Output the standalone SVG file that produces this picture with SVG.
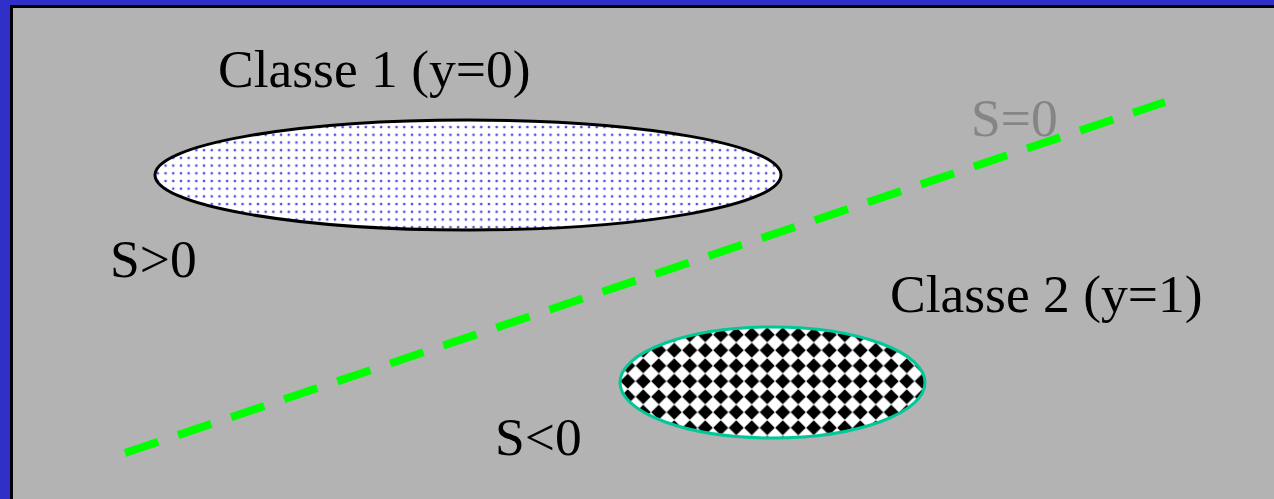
<svg xmlns="http://www.w3.org/2000/svg" width="1274" height="499" viewBox="0 0 1274 499">
<style>
.lbl{font-family:"Liberation Serif","Times New Roman",serif;font-size:53.5px;fill:#000}
.gray{fill:#858585}
</style>
<defs>
<pattern id="dots" x="0" y="0" width="7.7" height="7.7" patternUnits="userSpaceOnUse">
<rect width="7.7" height="7.7" fill="#fff"/>
<circle cx="3.85" cy="3.85" r="1.5" fill="#9898f0"/>
<circle cx="3.85" cy="3.85" r="0.95" fill="#3434e0"/>
</pattern>
<pattern id="diam" x="620" y="327" width="15.5" height="15.5" patternUnits="userSpaceOnUse">
<rect width="15.5" height="15.5" fill="#fff"/>
<polygon points="7.75,0.2 15.3,7.75 7.75,15.3 0.2,7.75" fill="#000"/>
</pattern>
</defs>
<g id="frame">
<rect x="0" y="0" width="1274" height="499" fill="#3030c8"/>
<rect x="10" y="5" width="1264" height="494" fill="#000"/>
<rect x="13" y="8" width="1261" height="491" fill="#b3b3b3"/>
</g>
<g id="connectors">
<line x1="125" y1="453" x2="1165" y2="102" stroke="#00ff00" stroke-width="8" stroke-dasharray="35 21" stroke-linecap="butt"/>
</g>
<g id="class1">
<ellipse cx="468" cy="175" rx="313" ry="55" fill="url(#dots)" stroke="#000" stroke-width="3"/>
<text class="lbl" x="218" y="87">Classe 1 (y=0)</text>
</g>
<g id="class2">
<ellipse cx="772.5" cy="382.5" rx="152.5" ry="55.5" fill="url(#diam)" stroke="#00c896" stroke-width="3"/>
<text class="lbl" x="890" y="312">Classe 2 (y=1)</text>
</g>
<g id="labels">
<text class="lbl" x="110" y="277">S&gt;0</text>
<text class="lbl" x="495" y="455">S&lt;0</text>
<text class="lbl gray" x="971" y="136">S=0</text>
</g>
</svg>
